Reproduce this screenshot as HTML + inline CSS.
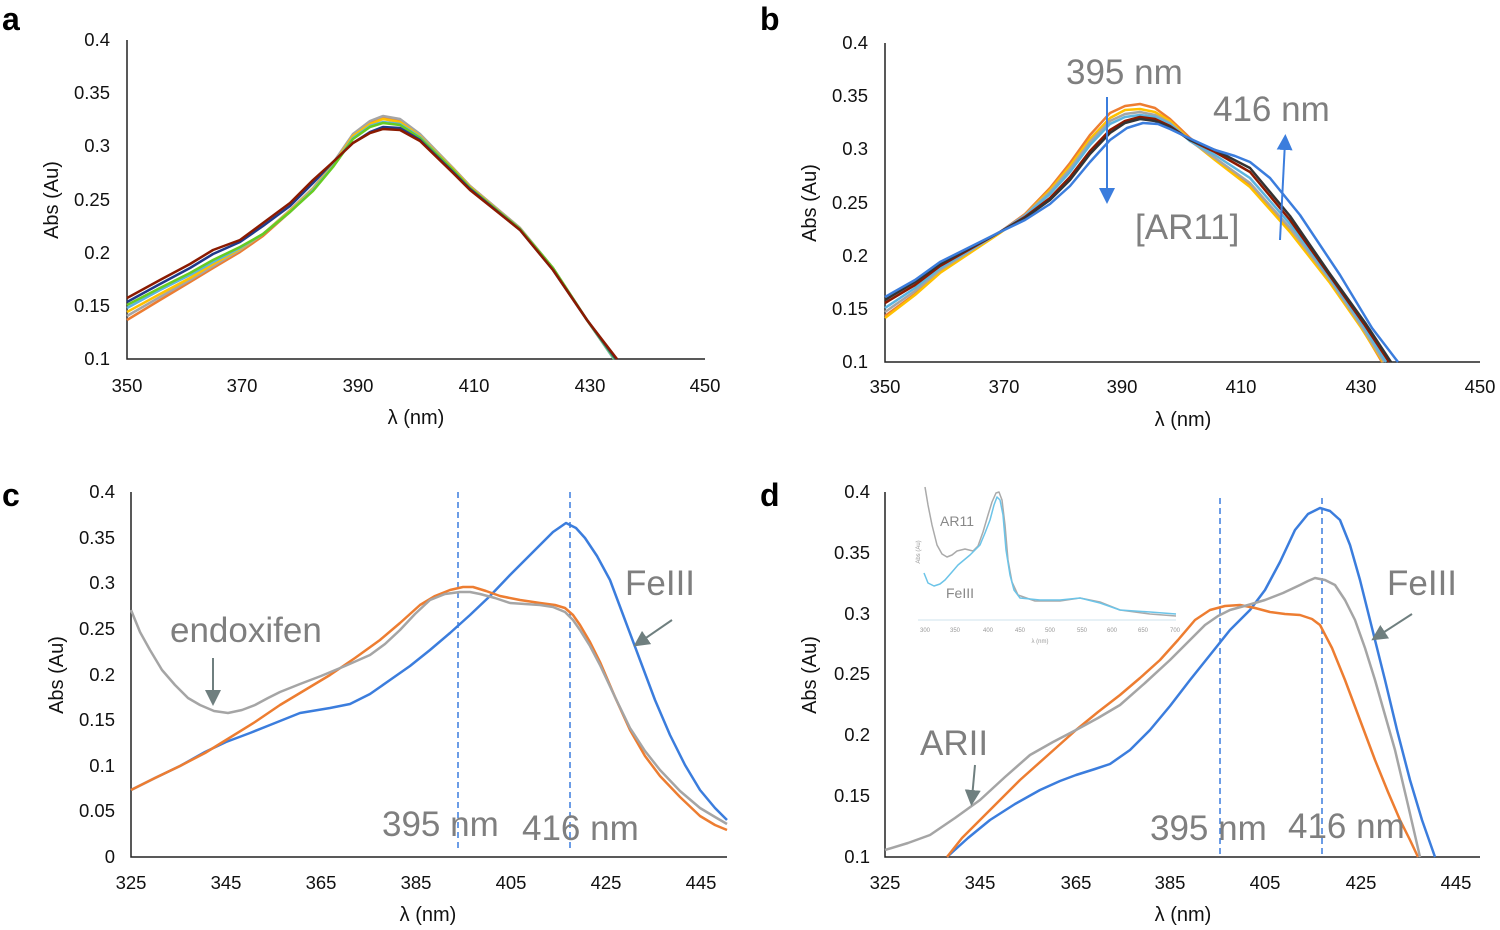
<!DOCTYPE html>
<html><head><meta charset="utf-8"><style>
body{margin:0;background:#fff}
svg{display:block;font-family:"Liberation Sans",sans-serif}
.t{font-size:18.5px;fill:#111}
.ax{stroke:#222;stroke-width:1.5;fill:none}
.c{fill:none;stroke-width:2.5;stroke-linejoin:round}
.big{font-size:35px;fill:#7f7f7f}
.lt{font-size:32px;font-weight:bold;fill:#000}
</style></head><body>
<svg width="1500" height="930" viewBox="0 0 1500 930">
<defs><marker id="ab" markerWidth="8" markerHeight="8" refX="4" refY="4" orient="auto"><path d="M0,0L8,4L0,8z" fill="#3b7ddd"/></marker>
<marker id="ag" markerWidth="8" markerHeight="8" refX="4" refY="4" orient="auto"><path d="M0,0L8,4L0,8z" fill="#6f7f7f"/></marker></defs>
<text class="lt" x="2" y="30">a</text><text class="lt" x="760" y="30">b</text>
<text class="lt" x="2" y="506">c</text><text class="lt" x="760" y="506">d</text>

<!-- PANEL A -->
<path class="ax" d="M127,40V359H705"/>
<g class="t" text-anchor="end"><text x="110" y="46">0.4</text><text x="110" y="99">0.35</text><text x="110" y="152">0.3</text><text x="110" y="206">0.25</text><text x="110" y="259">0.2</text><text x="110" y="312">0.15</text><text x="110" y="365">0.1</text></g>
<g class="t" text-anchor="middle"><text x="127" y="392">350</text><text x="242" y="392">370</text><text x="358" y="392">390</text><text x="474" y="392">410</text><text x="590" y="392">430</text><text x="705" y="392">450</text>
<text x="416" y="424" style="font-size:20px">λ (nm)</text>
<text transform="translate(58,200) rotate(-90)" style="font-size:20px">Abs (Au)</text></g>
<polyline class="c" stroke="#ed7d31" points="127,320 160,300 190,282 213,268 240,252 263,236 290,212 313,190 333,165 353,135 370,122 383,117 400,120 420,135 453,168 470,186 520,228 553,268 587,320 614,359"/>
<polyline class="c" stroke="#a5a5a5" points="127,316 160,297 190,280 213,266 240,250 263,234 290,210 313,188 333,163 353,134 370,121 383,116 400,119 420,134 453,168 470,186 520,228 553,268 587,320 614,359"/>
<polyline class="c" stroke="#ffc000" points="127,312 160,294 190,278 213,264 240,249 263,234 290,211 313,189 333,165 353,136 370,124 383,119 400,122 420,136 453,169 470,187 520,229 553,268 587,320 614,359"/>
<polyline class="c" stroke="#5bb4e0" points="127,308 160,290 190,275 213,262 240,248 263,234 290,212 313,190 333,166 353,138 370,126 383,122 400,124 420,137 453,170 470,188 520,229 553,268 587,320 614,359"/>
<polyline class="c" stroke="#66cc22" points="127,305 160,288 190,273 213,260 240,247 263,234 290,212 313,191 333,167 353,139 370,127 383,123 400,125 420,138 453,170 470,188 520,229 553,268 587,320 615,359"/>
<polyline class="c" stroke="#1f3a8a" points="127,302 160,284 190,268 213,254 240,242 263,226 290,206 313,183 333,162 353,143 370,132 383,127 400,128 420,140 453,172 470,189 520,230 553,270 587,320 616,359"/>
<polyline class="c" stroke="#8b1a00" points="127,298 160,280 190,264 213,250 240,240 263,223 290,203 313,180 333,162 353,143 370,133 383,129 400,130 420,141 453,173 470,190 520,230 553,270 587,320 617,359"/>

<!-- PANEL B -->
<path class="ax" d="M885,43V362H1480"/>
<g class="t" text-anchor="end"><text x="868" y="49">0.4</text><text x="868" y="102">0.35</text><text x="868" y="155">0.3</text><text x="868" y="209">0.25</text><text x="868" y="262">0.2</text><text x="868" y="315">0.15</text><text x="868" y="368">0.1</text></g>
<g class="t" text-anchor="middle"><text x="885" y="393">350</text><text x="1004" y="393">370</text><text x="1122" y="393">390</text><text x="1241" y="393">410</text><text x="1361" y="393">430</text><text x="1480" y="393">450</text>
<text x="1183" y="426" style="font-size:20px">λ (nm)</text>
<text transform="translate(816,203) rotate(-90)" style="font-size:20px">Abs (Au)</text></g>
<polyline class="c" stroke="#ed7d31" points="885,316 915,294 940,272 970,252 1000,232 1025,214 1050,188 1070,163 1090,135 1110,113 1125,106 1140,104 1155,108 1170,119 1190,138 1215,158 1250,185 1290,230 1330,282 1360,325 1382,362"/>
<polyline class="c" stroke="#ffc000" points="885,318 915,295 940,273 970,253 1000,233 1025,215 1050,190 1070,166 1090,139 1110,118 1125,110 1140,109 1155,112 1170,121 1190,140 1215,160 1250,187 1290,232 1330,283 1360,326 1383,362"/>
<polyline class="c" stroke="#a5a5a5" points="885,312 915,291 940,270 970,251 1000,232 1025,215 1050,192 1070,169 1090,142 1110,121 1125,114 1140,112 1155,115 1170,123 1190,141 1215,158 1250,183 1290,228 1330,280 1360,324 1384,362"/>
<polyline class="c" stroke="#5bb4e0" points="885,308 915,288 940,268 970,250 1000,232 1025,216 1050,194 1070,172 1090,145 1110,124 1125,117 1140,115 1155,117 1170,124 1190,141 1215,155 1250,178 1290,224 1330,278 1362,324 1386,362"/>
<polyline class="c" stroke="#8b1a00" points="885,303 915,285 940,266 970,249 1000,232 1025,217 1050,198 1070,177 1090,151 1110,130 1125,121 1140,117 1155,119 1170,126 1190,140 1215,152 1250,172 1290,220 1330,276 1364,324 1389,362"/>
<polyline class="c" stroke="#333" points="885,300 915,282 940,264 970,248 1000,232 1025,218 1050,200 1070,180 1090,154 1110,133 1125,123 1140,119 1155,121 1170,127 1190,140 1215,150 1250,168 1290,216 1330,274 1366,324 1391,362"/>
<polyline class="c" stroke="#3b7ddd" points="885,297 915,280 940,262 970,247 1000,232 1025,220 1050,204 1070,186 1090,162 1110,140 1127,128 1143,123 1158,124 1170,129 1193,140 1215,150 1235,156 1250,162 1270,178 1300,215 1340,275 1372,328 1398,362"/>
<text class="big" x="1066" y="84">395 nm</text><text class="big" x="1213" y="121">416 nm</text><text class="big" x="1135" y="239">[AR11]</text>
<line x1="1107" y1="97" x2="1107" y2="196" stroke="#3b7ddd" stroke-width="2" marker-end="url(#ab)"/>
<line x1="1280" y1="240" x2="1285" y2="142" stroke="#3b7ddd" stroke-width="2" marker-end="url(#ab)"/>

<!-- PANEL C -->
<path class="ax" d="M131,492V857H727"/>
<g class="t" text-anchor="end"><text x="115" y="498">0.4</text><text x="115" y="544">0.35</text><text x="115" y="589">0.3</text><text x="115" y="635">0.25</text><text x="115" y="681">0.2</text><text x="115" y="726">0.15</text><text x="115" y="772">0.1</text><text x="115" y="817">0.05</text><text x="115" y="863">0</text></g>
<g class="t" text-anchor="middle"><text x="131" y="889">325</text><text x="226" y="889">345</text><text x="321" y="889">365</text><text x="416" y="889">385</text><text x="511" y="889">405</text><text x="606" y="889">425</text><text x="701" y="889">445</text>
<text x="428" y="921" style="font-size:20px">λ (nm)</text>
<text transform="translate(63,675) rotate(-90)" style="font-size:20px">Abs (Au)</text></g>
<line x1="458" y1="492" x2="458" y2="852" stroke="#3b7ddd" stroke-width="1.5" stroke-dasharray="6,4"/>
<line x1="570" y1="492" x2="570" y2="852" stroke="#3b7ddd" stroke-width="1.5" stroke-dasharray="6,4"/>
<polyline class="c" stroke="#3b7ddd" points="131,790 155,778 180,766 205,752 226,742 250,733 270,725 290,717 300,713 330,708 350,704 370,694 390,680 410,666 430,650 450,633 470,615 490,596 510,575 525,560 540,545 553,532 566,523 576,528 585,538 597,556 610,580 625,620 640,660 655,700 670,735 685,765 700,790 715,808 727,820"/>
<polyline class="c" stroke="#ed7d31" points="131,790 155,778 180,766 205,753 226,740 255,722 280,705 305,690 330,675 355,658 380,640 400,623 420,605 435,596 450,590 463,587 473,587 486,591 500,596 520,600 540,603 555,605 565,608 573,615 580,625 590,642 600,662 615,697 630,730 645,756 660,776 680,797 700,816 715,825 727,830"/>
<polyline class="c" stroke="#a5a5a5" points="131,610 140,632 150,650 162,670 175,685 188,698 200,705 214,711 228,713 242,710 255,705 268,698 280,692 300,684 321,676 345,666 370,655 385,644 400,630 415,614 430,600 445,594 460,592 470,592 480,594 495,598 510,603 525,604 540,605 553,607 565,612 573,620 580,630 590,646 600,665 615,697 630,728 645,751 660,770 680,791 700,808 715,817 727,824"/>
<text class="big" x="170" y="642">endoxifen</text><text class="big" x="625" y="595">FeIII</text>
<text class="big" x="382" y="836">395 nm</text><text class="big" x="522" y="840">416 nm</text>
<line x1="213" y1="658" x2="213" y2="698" stroke="#6f7f7f" stroke-width="2" marker-end="url(#ag)"/>
<line x1="672" y1="620" x2="640" y2="642" stroke="#6f7f7f" stroke-width="2" marker-end="url(#ag)"/>

<!-- PANEL D -->
<path class="ax" d="M885,492V857H1480"/>
<g class="t" text-anchor="end"><text x="870" y="498">0.4</text><text x="870" y="559">0.35</text><text x="870" y="620">0.3</text><text x="870" y="680">0.25</text><text x="870" y="741">0.2</text><text x="870" y="802">0.15</text><text x="870" y="863">0.1</text></g>
<g class="t" text-anchor="middle"><text x="885" y="889">325</text><text x="980" y="889">345</text><text x="1076" y="889">365</text><text x="1170" y="889">385</text><text x="1265" y="889">405</text><text x="1361" y="889">425</text><text x="1456" y="889">445</text>
<text x="1183" y="921" style="font-size:20px">λ (nm)</text>
<text transform="translate(816,675) rotate(-90)" style="font-size:20px">Abs (Au)</text></g>
<line x1="1220" y1="498" x2="1220" y2="857" stroke="#3b7ddd" stroke-width="1.5" stroke-dasharray="6,4"/>
<line x1="1322" y1="498" x2="1322" y2="857" stroke="#3b7ddd" stroke-width="1.5" stroke-dasharray="6,4"/>
<polyline class="c" stroke="#3b7ddd" points="947,857 968,838 990,820 1015,804 1040,790 1060,781 1076,775 1095,769 1110,764 1130,750 1150,730 1170,706 1190,680 1210,655 1230,630 1250,610 1265,590 1280,562 1295,530 1308,514 1320,508 1330,511 1340,520 1350,545 1360,580 1372,628 1385,680 1397,730 1410,780 1422,820 1435,857"/>
<polyline class="c" stroke="#ed7d31" points="947,857 962,838 980,820 1000,800 1020,780 1048,755 1076,730 1098,712 1120,695 1140,678 1160,660 1178,640 1195,620 1210,610 1225,606 1240,605 1255,608 1270,612 1285,614 1300,615 1312,619 1320,625 1332,648 1345,680 1360,720 1375,760 1388,792 1400,820 1410,840 1418,857"/>
<polyline class="c" stroke="#a5a5a5" points="885,850 908,843 930,835 955,818 980,800 1005,777 1030,755 1053,742 1076,730 1098,718 1120,705 1145,683 1170,660 1188,642 1205,625 1218,616 1230,610 1248,605 1265,600 1283,593 1300,585 1308,581 1315,578 1325,580 1335,585 1345,600 1355,620 1365,648 1375,680 1385,715 1395,750 1408,805 1420,857"/>
<text class="big" x="1387" y="595">FeIII</text><text class="big" x="920" y="755">ARII</text>
<text class="big" x="1150" y="840">395 nm</text><text class="big" x="1288" y="838">416 nm</text>
<line x1="1412" y1="614" x2="1378" y2="636" stroke="#6f7f7f" stroke-width="2" marker-end="url(#ag)"/>
<line x1="975" y1="765" x2="972" y2="798" stroke="#6f7f7f" stroke-width="2" marker-end="url(#ag)"/>
<line x1="918" y1="620" x2="1176" y2="620" stroke="#cfe3ee" stroke-width="1"/>
<g style="font-size:6px;fill:#999" text-anchor="middle"><text x="925" y="632">300</text><text x="955" y="632">350</text><text x="988" y="632">400</text><text x="1020" y="632">450</text><text x="1050" y="632">500</text><text x="1082" y="632">550</text><text x="1112" y="632">600</text><text x="1143" y="632">650</text><text x="1175" y="632">700</text><text x="1040" y="643">λ (nm)</text>
<text transform="translate(920,552) rotate(-90)">Abs (Au)</text></g>
<polyline fill="none" stroke="#aaa" stroke-width="1.5" stroke-linejoin="round" points="925,487 928,505 932,525 937,545 942,554 947,557 952,555 957,551 965,549 973,551 978,546 983,532 988,515 992,502 996,493 999,492 1002,500 1005,525 1008,560 1012,582 1018,595 1035,601 1060,601 1080,598 1100,602 1120,610 1150,614 1176,616"/>
<polyline fill="none" stroke="#6cc4e8" stroke-width="1.5" stroke-linejoin="round" points="924,573 928,583 934,586 940,584 945,580 952,572 958,565 964,560 970,555 980,545 985,533 990,520 994,505 997,497 1000,500 1003,515 1006,550 1010,575 1014,590 1020,598 1040,600 1060,600 1080,598 1100,603 1120,610 1150,612 1176,614"/>
<text x="940" y="526" style="font-size:14px;fill:#888">AR11</text>
<text x="946" y="598" style="font-size:14px;fill:#888">FeIII</text>
</svg>
</body></html>
